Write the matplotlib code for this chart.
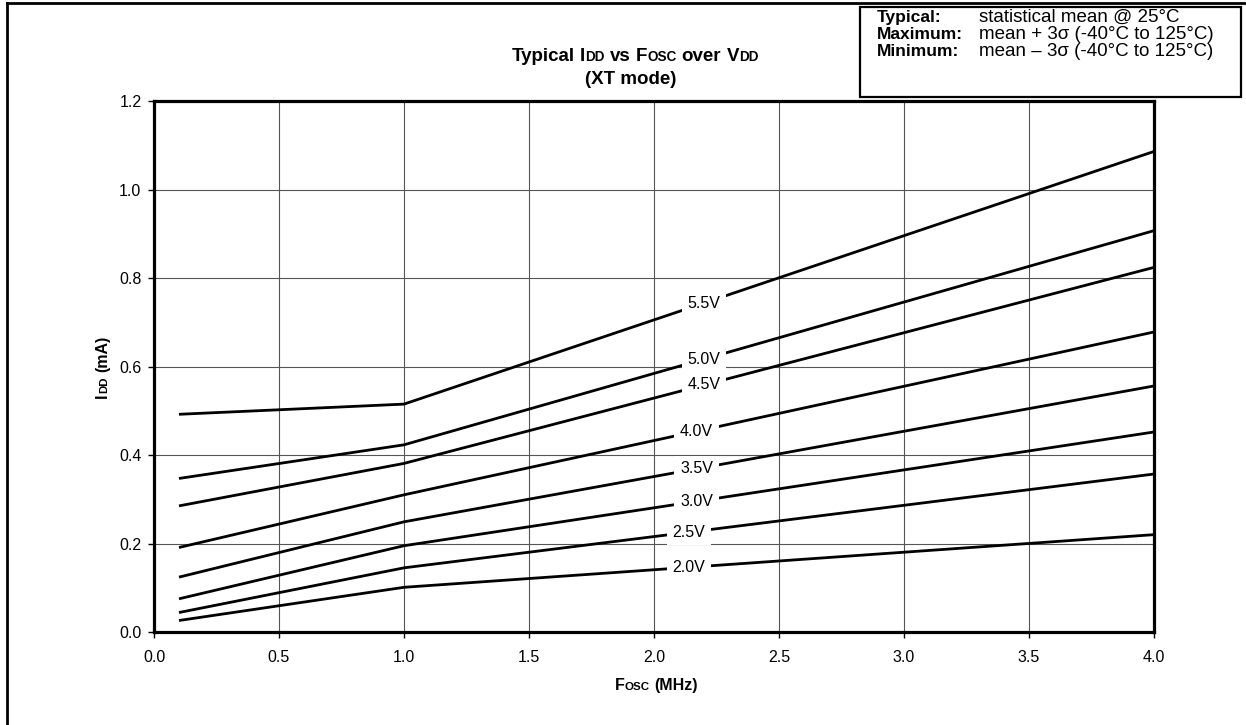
import matplotlib
matplotlib.use("Agg")
import matplotlib.pyplot as plt
import numpy as np
from matplotlib.lines import Line2D
from matplotlib.patches import Rectangle

# ---------------- dados ----------------
fosc_mhz = [0.1, 1.0, 4.0]

vdd_labels = ["5.5V", "5.0V", "4.5V", "4.0V", "3.5V", "3.0V", "2.5V", "2.0V"]

idd_5v5 = [0.492, 0.515, 1.086]
idd_5v0 = [0.347, 0.423, 0.907]
idd_4v5 = [0.285, 0.381, 0.824]
idd_4v0 = [0.191, 0.310, 0.678]
idd_3v5 = [0.124, 0.249, 0.556]
idd_3v0 = [0.075, 0.195, 0.452]
idd_2v5 = [0.044, 0.145, 0.357]
idd_2v0 = [0.026, 0.101, 0.220]

x_ticks = [0.0, 0.5, 1.0, 1.5, 2.0, 2.5, 3.0, 3.5, 4.0]
y_ticks = [0.0, 0.2, 0.4, 0.6, 0.8, 1.0, 1.2]

legenda_nomes = ["Typical:", "Maximum:", "Minimum:"]
legenda_textos = ["statistical mean @ 25°C",
                  "mean + 3σ (-40°C to 125°C)",
                  "mean – 3σ (-40°C to 125°C)"]

# ---------------- layout ----------------
W, H = 1246, 725
FONTE = "Liberation Sans"
plt.rcParams["font.family"] = [FONTE, "DejaVu Sans"]

fig = plt.figure(figsize=(W / 100, H / 100), dpi=100)
ax = fig.add_axes([154 / W, 1 - 632 / H, 1000 / W, 531 / H])


def fx(px):
    return px / W


def fy(py):
    return 1 - py / H


series = [idd_5v5, idd_5v0, idd_4v5, idd_4v0, idd_3v5, idd_3v0, idd_2v5, idd_2v0]
label_x = [2.2, 2.2, 2.2, 2.17, 2.17, 2.17, 2.14, 2.14]

for ys, nome, lx in zip(series, vdd_labels, label_x):
    ax.plot(fosc_mhz, ys, color="black", lw=2.0, solid_capstyle="butt", zorder=3)
    ly = np.interp(lx, fosc_mhz, ys)
    ax.text(lx, ly, nome, fontsize=11.5, ha="center", va="center", zorder=4,
            bbox=dict(boxstyle="square,pad=0.35", fc="white", ec="none"))

ax.set_xlim(0, 4.0)
ax.set_ylim(0, 1.2)
ax.set_xticks(x_ticks)
ax.set_yticks(y_ticks)
ax.set_xticklabels([f"{v:.1f}" for v in x_ticks])
ax.set_yticklabels([f"{v:.1f}" for v in y_ticks])
ax.tick_params(direction="out", length=4, width=1, labelsize=11.5, pad=5)
ax.tick_params(axis="x", pad=9)
ax.grid(True, color="#555555", lw=0.8, zorder=1)
for sp in ax.spines.values():
    sp.set_linewidth(2.3)


# texto com "versaletes" (DD, OSC menores)
def texto_misto(x_px, y_px, partes, size, rot=False):
    r = fig.canvas.get_renderer()

    def largura(s, sz):
        t = fig.text(0, 0, s, fontsize=sz, fontweight="bold")
        w = t.get_window_extent(r).width
        t.remove()
        return w

    esp = largura("x x", size) - largura("xx", size)
    larg = []
    for s, pequeno, gap in partes:
        sz = size * 0.72 if pequeno else size
        larg.append(largura(s, sz) + (esp if gap else 0))
    total = sum(larg)
    pos = -total / 2
    for (s, pequeno, gap), w in zip(partes, larg):
        sz = size * 0.72 if pequeno else size
        off = pos + (esp if gap else 0)
        if rot:
            fig.text(fx(x_px), fy(y_px - off), s, fontsize=sz, fontweight="bold",
                     rotation=90, rotation_mode="anchor", ha="left", va="baseline")
        else:
            fig.text(fx(x_px + off), fy(y_px), s, fontsize=sz, fontweight="bold",
                     ha="left", va="baseline")
        pos += w


texto_misto(635, 61, [("Typical", False, False), ("I", False, True), ("DD", True, False),
                      ("vs", False, True), ("F", False, True), ("OSC", True, False),
                      ("over", False, True), ("V", False, True), ("DD", True, False)], 13.5)
fig.text(fx(631), fy(84), "(XT mode)", fontsize=13.5, fontweight="bold",
         ha="center", va="baseline")

texto_misto(656, 690, [("F", False, False), ("OSC", True, False), ("(MHz)", False, True)], 11.5)
texto_misto(107, 367, [("I", False, False), ("DD", True, False), ("(mA)", False, True)],
            11.5, rot=True)

# caixa da legenda
fig.add_artist(Rectangle((fx(860), fy(97)), fx(381), 90 / H, transform=fig.transFigure,
                         fill=False, ec="black", lw=1.6))
for i, (n, t) in enumerate(zip(legenda_nomes, legenda_textos)):
    yb = 22 + i * 16.8
    fig.text(fx(877), fy(yb), n, fontsize=12.5, fontweight="bold", va="baseline")
    fig.text(fx(979), fy(yb), t, fontsize=13.5, va="baseline")

# moldura externa (topo e esquerda)
fig.add_artist(Line2D([fx(7), 1.0], [fy(3), fy(3)], transform=fig.transFigure,
                      color="black", lw=2))
fig.add_artist(Line2D([fx(7), fx(7)], [fy(3), 0.0], transform=fig.transFigure,
                      color="black", lw=2))

fig.savefig("out.png", dpi=100)
